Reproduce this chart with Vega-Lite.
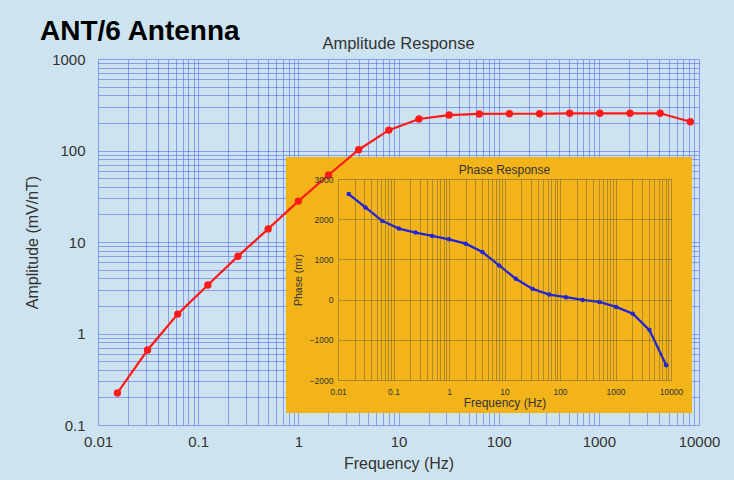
{
  "$schema": "https://vega.github.io/schema/vega-lite/v6.json",
  "background": "#cde4f0",
  "padding": {"left": 24, "top": 17, "right": 40, "bottom": 20},
  "title": {
    "text": "ANT/6 Antenna",
    "anchor": "start",
    "frame": "group",
    "dx": -58,
    "offset": -10,
    "fontSize": 28,
    "fontWeight": "bold",
    "color": "#000000"
  },
  "data": {
    "values": [
      {"freq": 0.015625, "amplitude": 0.224, "phase": 2625},
      {"freq": 0.03125, "amplitude": 0.66, "phase": 2292},
      {"freq": 0.0625, "amplitude": 1.63, "phase": 1958},
      {"freq": 0.125, "amplitude": 3.39, "phase": 1767},
      {"freq": 0.25, "amplitude": 7.0, "phase": 1667},
      {"freq": 0.5, "amplitude": 13.9, "phase": 1583},
      {"freq": 1, "amplitude": 28, "phase": 1500},
      {"freq": 2, "amplitude": 54, "phase": 1392},
      {"freq": 4, "amplitude": 102, "phase": 1183},
      {"freq": 8, "amplitude": 167, "phase": 850},
      {"freq": 16, "amplitude": 221, "phase": 517},
      {"freq": 32, "amplitude": 244, "phase": 267},
      {"freq": 64, "amplitude": 251, "phase": 125},
      {"freq": 128, "amplitude": 252, "phase": 60},
      {"freq": 256, "amplitude": 252, "phase": -8},
      {"freq": 512, "amplitude": 255, "phase": -58},
      {"freq": 1024, "amplitude": 255, "phase": -183},
      {"freq": 2048, "amplitude": 255, "phase": -350},
      {"freq": 4096, "amplitude": 255, "phase": -758},
      {"freq": 8192, "amplitude": 206, "phase": -1633}
    ]
  },
  "vconcat": [
    {
      "width": 601,
      "height": 366,
      "title": {"text": "Amplitude Response", "fontSize": 16.5, "fontWeight": "normal", "color": "#333333", "offset": 0},
      "layer": [
        {
          "layer": [
            {
              "data": {"values": [{}]},
              "mark": {"type": "rect", "color": "#f2b418", "opacity": 1},
              "encoding": {
                "x": {"datum": 0.753, "type": "quantitative", "title": "Frequency (Hz)"},
                "x2": {"datum": 8511},
                "y": {"datum": 84.9, "type": "quantitative", "title": "Amplitude (mV/nT)"},
                "y2": {"datum": 0.135}
              }
            },
            {
              "mark": {
                "type": "line",
                "color": "#ff1a1a",
                "strokeWidth": 2.2,
                "point": {"filled": true, "size": 55, "color": "#ff1a1a"}
              },
              "encoding": {
                "x": {
                  "field": "freq",
                  "type": "quantitative",
                  "title": "Frequency (Hz)",
                  "scale": {"type": "log", "domain": [0.01, 10000], "nice": false},
                  "axis": {
                    "values": [0.01, 0.02, 0.03, 0.04, 0.05, 0.06, 0.07, 0.08, 0.09, 0.1, 0.2, 0.3, 0.4, 0.5, 0.6, 0.7, 0.8, 0.9, 1, 2, 3, 4, 5, 6, 7, 8, 9, 10, 20, 30, 40, 50, 60, 70, 80, 90, 100, 200, 300, 400, 500, 600, 700, 800, 900, 1000, 2000, 3000, 4000, 5000, 6000, 7000, 8000, 9000, 10000],
                    "labelExpr": "indexof([0.01, 0.1, 1, 10, 100, 1000, 10000], datum.value) >= 0 ? format(datum.value, '~g') : ''",
                    "grid": true,
                    "gridColor": "#5062f0",
                    "gridOpacity": 0.55,
                    "ticks": false,
                    "domain": false,
                    "labelOverlap": false,
                    "labelFlush": false,
                    "labelBound": false,
                    "labelFontSize": 15,
                    "labelColor": "#333333",
                    "labelPadding": 9,
                    "titleFontSize": 16,
                    "titleFontWeight": "normal",
                    "titleColor": "#333333",
                    "titlePadding": 6
                  }
                },
                "y": {
                  "field": "amplitude",
                  "type": "quantitative",
                  "title": "Amplitude (mV/nT)",
                  "scale": {"type": "log", "domain": [0.1, 1000], "nice": false},
                  "axis": {
                    "values": [0.1, 0.2, 0.3, 0.4, 0.5, 0.6, 0.7, 0.8, 0.9, 1, 2, 3, 4, 5, 6, 7, 8, 9, 10, 20, 30, 40, 50, 60, 70, 80, 90, 100, 200, 300, 400, 500, 600, 700, 800, 900, 1000],
                    "labelExpr": "indexof([0.1, 1, 10, 100, 1000], datum.value) >= 0 ? format(datum.value, '~g') : ''",
                    "grid": true,
                    "gridColor": "#5062f0",
                    "gridOpacity": 0.55,
                    "ticks": false,
                    "domain": false,
                    "labelOverlap": false,
                    "labelFlush": false,
                    "labelBound": false,
                    "labelFontSize": 15,
                    "labelColor": "#333333",
                    "labelPadding": 13,
                    "titleFontSize": 16,
                    "titleFontWeight": "normal",
                    "titleColor": "#333333",
                    "titlePadding": 11
                  }
                }
              }
            }
          ]
        },
        {
          "layer": [
            {
              "mark": {
                "type": "line",
                "color": "#2222dd",
                "strokeWidth": 2.3,
                "point": {"filled": true, "size": 20, "color": "#2222dd"}
              },
              "encoding": {
                "x": {
                  "field": "freq",
                  "type": "quantitative",
                  "title": "Frequency (Hz)",
                  "scale": {"type": "log", "domain": [0.01, 10000], "nice": false, "range": [240, 573]},
                  "axis": {
                    "orient": "top",
                    "offset": -321,
                    "zindex": 1,
                    "values": [0.01, 0.02, 0.03, 0.04, 0.05, 0.06, 0.07, 0.08, 0.09, 0.1, 0.2, 0.3, 0.4, 0.5, 0.6, 0.7, 0.8, 0.9, 1, 2, 3, 4, 5, 6, 7, 8, 9, 10, 20, 30, 40, 50, 60, 70, 80, 90, 100, 200, 300, 400, 500, 600, 700, 800, 900, 1000, 2000, 3000, 4000, 5000, 6000, 7000, 8000, 9000, 10000],
                    "labelExpr": "indexof([0.01, 0.1, 1, 10, 100, 1000, 10000], datum.value) >= 0 ? format(datum.value, '~g') : ''",
                    "grid": true,
                    "gridColor": "#4a4a4a",
                    "gridOpacity": 0.4,
                    "ticks": false,
                    "domain": false,
                    "labelOverlap": false,
                    "labelFlush": false,
                    "labelBound": false,
                    "labelFontSize": 8.5,
                    "labelColor": "#333333",
                    "labelBaseline": "top",
                    "labelPadding": -7,
                    "titleFontSize": 12,
                    "titleFontWeight": "normal",
                    "titleColor": "#333333",
                    "titleBaseline": "middle",
                    "titleY": 22
                  }
                },
                "y": {
                  "field": "phase",
                  "type": "quantitative",
                  "title": "Phase (mr)",
                  "scale": {"domain": [-2000, 3000], "nice": false, "range": [321, 120]},
                  "axis": {
                    "orient": "left",
                    "offset": -240,
                    "zindex": 1,
                    "values": [-2000, -1500, -1000, -500, 0, 500, 1000, 1500, 2000, 2500, 3000],
                    "labelExpr": "datum.value % 1000 === 0 ? format(datum.value, 'd') : ''",
                    "grid": true,
                    "gridColor": "#4a4a4a",
                    "gridOpacity": 0.4,
                    "ticks": false,
                    "domain": false,
                    "labelOverlap": false,
                    "labelFlush": false,
                    "labelBound": false,
                    "labelFontSize": 8.5,
                    "labelColor": "#333333",
                    "labelPadding": 5,
                    "titleFontSize": 10.5,
                    "titleFontWeight": "normal",
                    "titleColor": "#333333",
                    "titlePadding": 6
                  }
                }
              }
            },
            {
              "data": {"values": [{}]},
              "mark": {"type": "text", "text": "Phase Response", "fontSize": 12, "color": "#333333", "baseline": "middle"},
              "encoding": {
                "x": {"datum": 10, "type": "quantitative", "title": "Frequency (Hz)"},
                "y": {"datum": 3224, "type": "quantitative", "title": "Phase (mr)"}
              }
            }
          ]
        }
      ],
      "resolve": {"scale": {"x": "independent", "y": "independent"}}
    }
  ],
  "config": {
    "font": "Liberation Sans",
    "view": {"stroke": null}
  }
}
